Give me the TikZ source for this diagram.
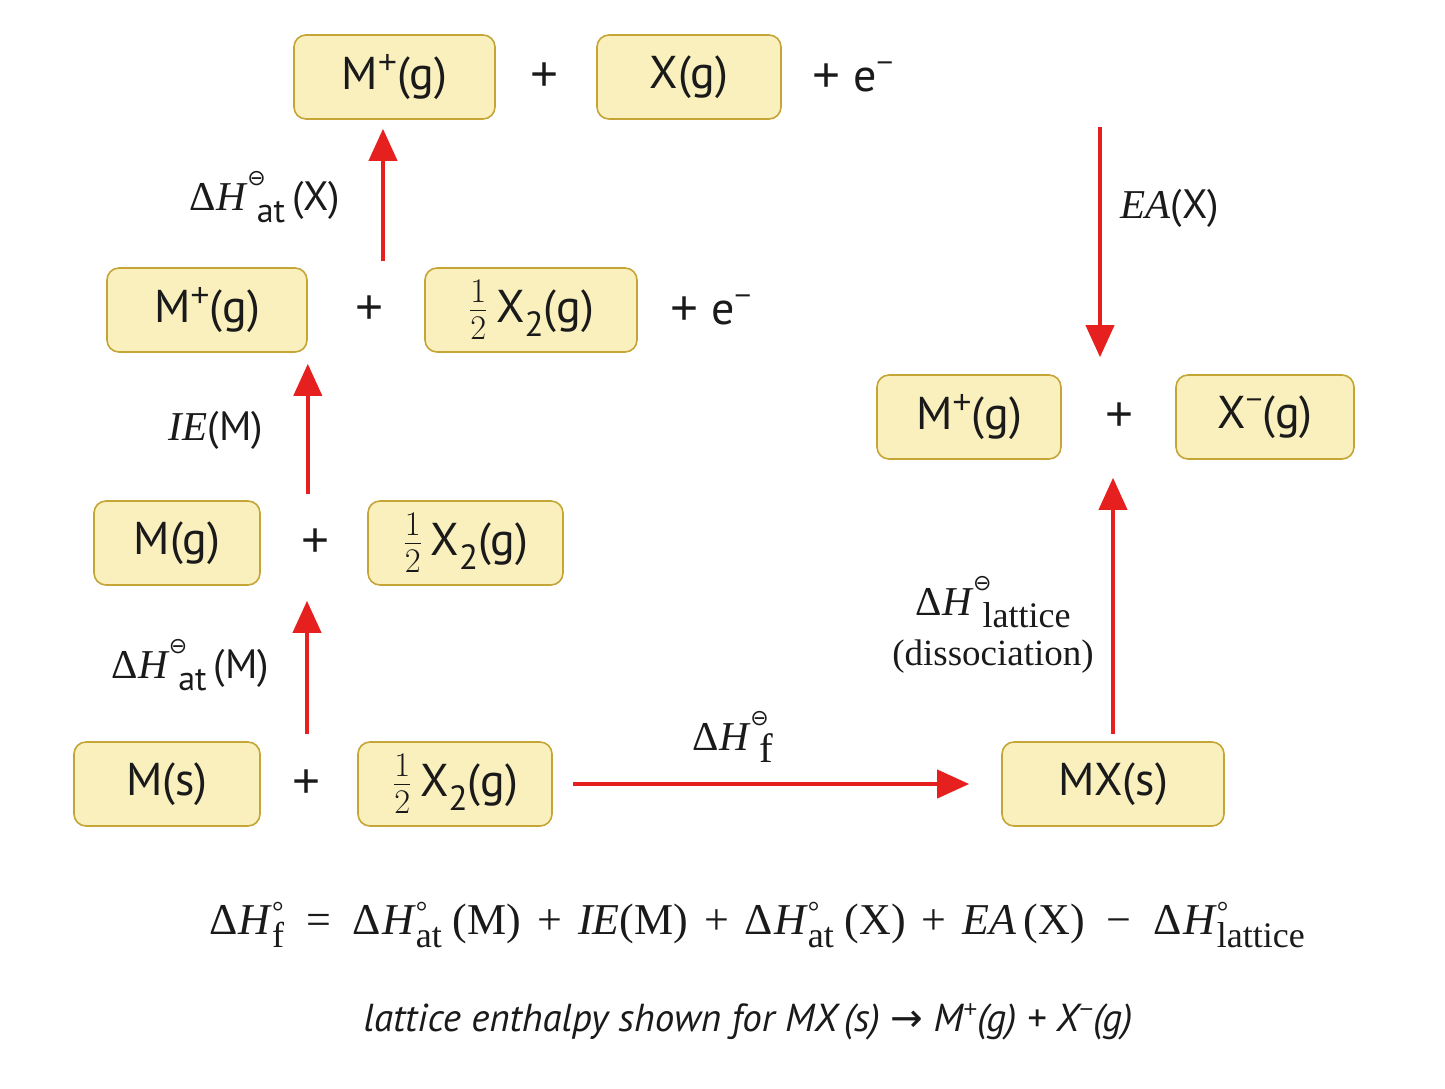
\documentclass[tikz,border=0pt]{standalone}
\usepackage{fontspec}
\setmainfont{Liberation Serif}
\newfontfamily\sansf{PT Sans}
\newfontfamily\symf{DejaVu Sans}
\newfontfamily\plusf{Liberation Sans}
\usetikzlibrary{arrows.meta,calc}
\definecolor{boxfill}{HTML}{FAF0BE}
\definecolor{boxline}{HTML}{C4A536}
\definecolor{arrred}{HTML}{E5201F}
\definecolor{ink}{HTML}{1A1A1A}
\newcommand\bsz{\fontsize{23}{27}\selectfont}
\newcommand\lsz{\fontsize{20.5}{24}\selectfont}
\newcommand\up[1]{\raisebox{0.36em}{\plusf\fontsize{16.5}{16.5}\selectfont #1}}
\newcommand\upm[1]{\raisebox{0.42em}{\plusf\fontsize{14.5}{14.5}\selectfont #1}}
\newcommand\upc[1]{\raisebox{0.36em}{\plusf\fontsize{12}{12}\selectfont #1}}
\newcommand\dn[1]{\raisebox{-0.3em}{\fontsize{17.5}{17.5}\selectfont #1}}
\newcommand\half{$\frac{1}{2}$}
\newcommand\bplus{{\plusf\fontsize{24}{24}\selectfont +}}
\newcommand\dH{Δ\kern0.02em\textit{H}}
\newcommand\plim{{\symf\fontsize{11}{11}\selectfont ⊖}}
\newcommand\supsb[2]{\kern-0.02em\raisebox{0.6em}{\plim}\kern-0.22em\raisebox{-0.3em}{#2}}
\newcommand\supsbE[2]{\rlap{\raisebox{0.28em}{\fontsize{14.5}{14.5}\selectfont #1}}\raisebox{-0.3em}{\fontsize{18}{18}\selectfont #2}}
\newcommand\gap[1]{\hspace{#1pt}}
\begin{document}
\begin{tikzpicture}[x=0.5pt,y=-0.5pt,
  box/.style={draw=boxline, fill=boxfill, line width=0.8pt, rounded corners=6pt,
    minimum height=42pt, inner sep=0pt, font=\bsz\sansf, text=ink},
  op/.style={font=\bsz\sansf, text=ink, inner sep=0pt},
  lab/.style={font=\lsz, text=ink, inner sep=0pt, align=center},
  arr/.style={draw=arrred, line width=2pt, -{Triangle[length=16pt,width=14pt]}}]
\path[use as bounding box] (0,0) rectangle (1445,1088);
% top row
\node[box, minimum width=100.5pt] (t1) at (394.5,77) {M\up{+}(g)};
\node[op] (tp) at (545,77) {\bplus};
\node[box, minimum width=92pt] (t2) at (689,77) {X(g)};
\node[op] (te) at (853,77) {\bplus\ e\upm{−}};
% row 2
\node[box, minimum width=100pt] (m2) at (207,310) {M\up{+}(g)};
\node[op] (p2) at (370,310) {\bplus};
\node[box, minimum width=106pt] (h2) at (531,310) {\half\,X\dn{2}(g)};
\node[op] (e2) at (711,310) {\bplus\ e\upm{−}};
% row 3
\node[box, minimum width=83pt] (g1) at (177,543) {M(g)};
\node[op] (p3) at (316,543) {\bplus};
\node[box, minimum width=97.5pt] (h3) at (465.5,543) {\half\,X\dn{2}(g)};
% row 4
\node[box, minimum width=93pt] (s1) at (167,784) {M(s)};
\node[op] (p4) at (307,784) {\bplus};
\node[box, minimum width=97pt] (h4) at (455,784) {\half\,X\dn{2}(g)};
\node[box, minimum width=111pt] (mx) at (1113,784) {MX(s)};
% right row
\node[box, minimum width=92pt] (r1) at (969,417) {M\up{+}(g)};
\node[op] (rp) at (1120,417) {\bplus};
\node[box, minimum width=89pt] (r2) at (1265,417) {X\upm{−}(g)};
% labels
\node[lab] (lx) at (265,197) {\dH\supsb{}{\sansf\fontsize{17}{17}\selectfont at}\,{\sansf\fontsize{20.5}{24}\selectfont (X)}};
\node[lab] (lie) at (216,430) {\textit{IE}{\sansf (M)}};
\node[lab] (lm) at (190,665) {\dH\supsb{}{\sansf\fontsize{17}{17}\selectfont at}\,{\sansf\fontsize{20.5}{24}\selectfont (M)}};
\node[lab] (lf) at (733,737) {\dH\supsb{}{f}};
\node[lab] (lea) at (1170,208) {\textit{EA}{\sansf (X)}};
\node[lab] (ll) at (993,625) {\dH\supsb{}{\fontsize{18}{18}\selectfont lattice}\\[1pt]{\fontsize{18.5}{22}\selectfont (dissociation)}};
% arrows
\draw[arr] ($(p4 |- s1.north)+(0,-7)$) -- ($(p4 |- g1.south)+(0,15)$);
\draw[arr] ($(m2.south east |- g1.north)+(0,-6)$) -- ($(m2.south east)+(0,11)$);
\draw[arr] ($(t1.south |- m2.north)+(-11.5,-6)$) -- ($(t1.south)+(-11.5,9)$);
\draw[arr] ($(h4.east)+(20,0)$) -- ($(mx.west)+(-32,0)$);
\draw[arr] ($(mx.north)+(0,-7)$) -- ($(mx.north |- r1.south)+(0,18)$);
\draw[arr] ($(rp |- t2.south)+(-20,7)$) -- ($(rp |- r1.north)+(-20,-17)$);
% equation and caption
\node[text=ink, inner sep=0pt, font=\fontsize{22}{26}\selectfont] (eq) at (757,925)
 {\dH\supsbE{°}{f}\gap{11}=\gap{11}\dH\supsbE{°}{at}\ (M)\gap{8}+\gap{8}\textit{IE}(M)\gap{8}+\gap{8}\dH\supsbE{°}{at}\ (X)\gap{8}+\gap{8}\textit{EA}\,(X)\gap{11}−\gap{11}\dH\supsbE{°}{lattice}};
\node[text=ink, inner sep=0pt, font=\fontsize{19.5}{23}\selectfont\sansf\itshape] (cap) at (748,1022)
 {lattice enthalpy shown for MX\,(s) {\upshape\symf →} M\upc{+}(g) + X\upc{−}(g)};
\end{tikzpicture}
\end{document}
